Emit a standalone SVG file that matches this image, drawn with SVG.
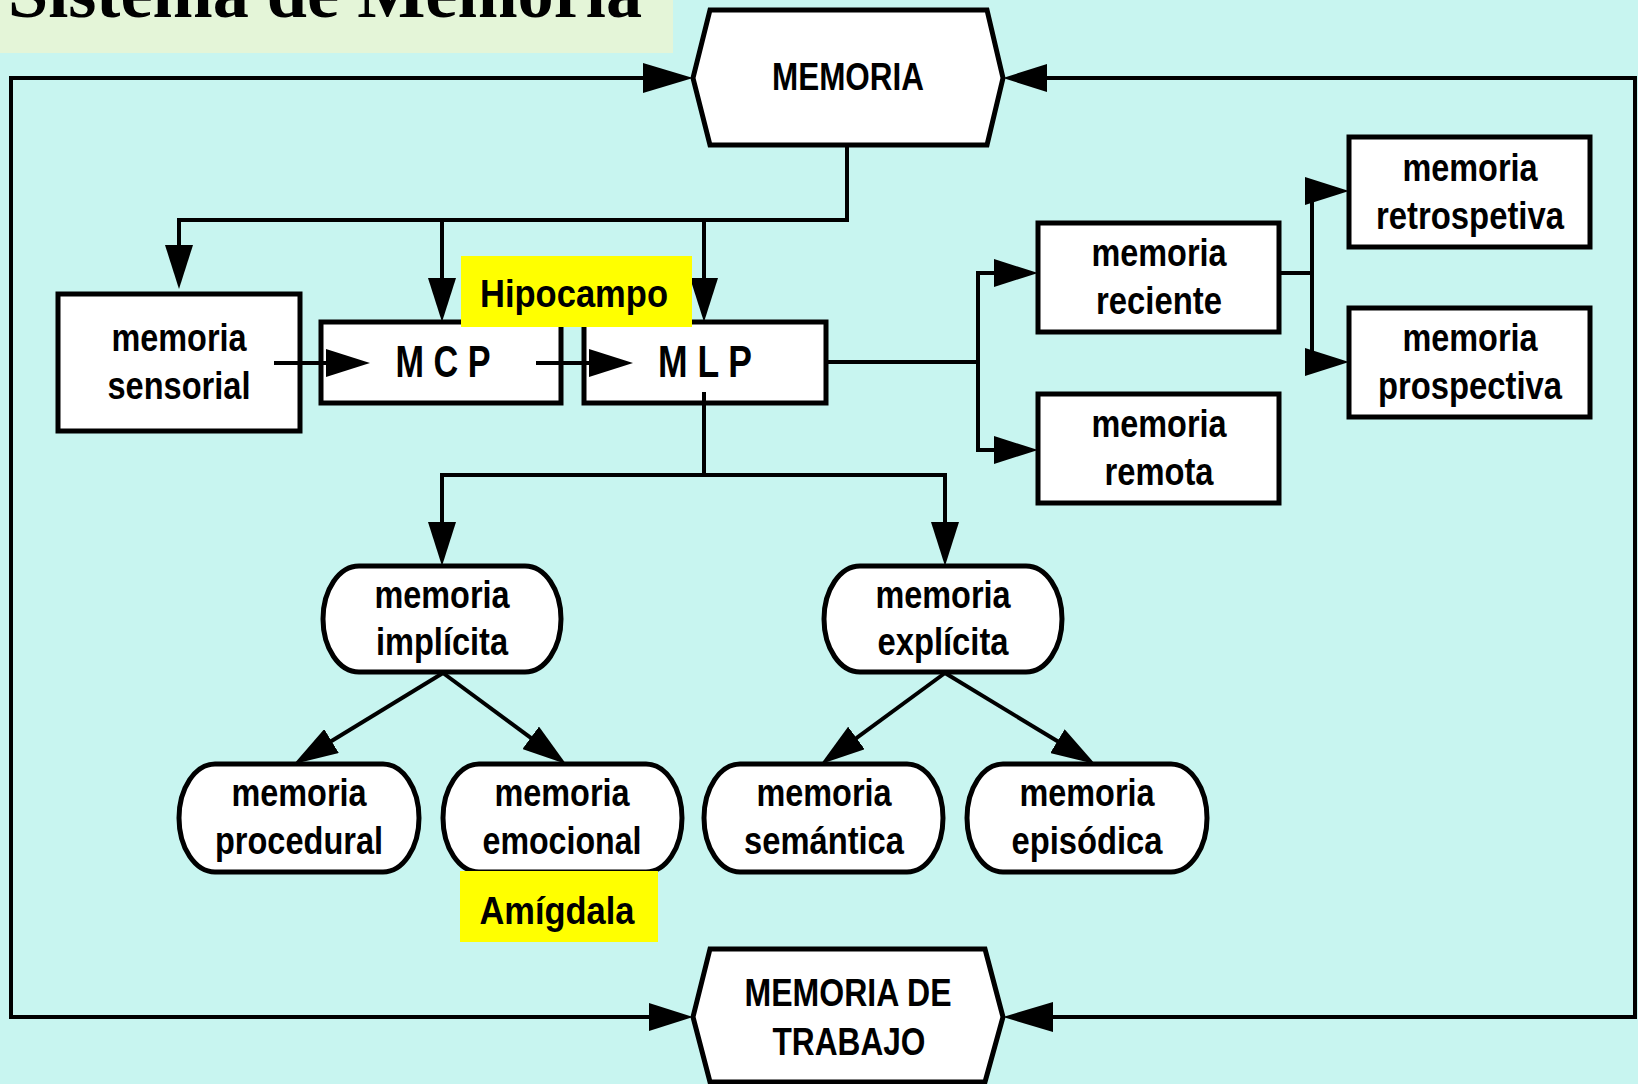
<svg xmlns="http://www.w3.org/2000/svg" width="1638" height="1084" viewBox="0 0 1638 1084">
  <style>
    .node { fill: #ffffff; stroke: #000000; stroke-width: 5; stroke-linejoin: miter; }
    .wire { fill: none; stroke: #000000; stroke-width: 4; stroke-linejoin: miter; }
    .lbl { font-family: "Liberation Sans", Arial, sans-serif; font-weight: bold; font-size: 38px; text-anchor: middle; fill: #000000; }
    .big { font-size: 44px; }
    .tag { fill: #ffff00; }
    .title { font-family: "Liberation Serif", "Times New Roman", serif; font-weight: bold; font-size: 72px; fill: #000000; }
  </style>
  <defs>
    <marker id="ah" markerUnits="userSpaceOnUse" viewBox="0 0 44 28" markerWidth="44" markerHeight="28" refX="36" refY="14" orient="auto-start-reverse">
      <path d="M0,0 L44,14 L0,28 Z" fill="#000000"/>
    </marker>
    <marker id="ahL" markerUnits="userSpaceOnUse" viewBox="0 0 50 30" markerWidth="50" markerHeight="30" refX="42" refY="15" orient="auto-start-reverse">
      <path d="M0,0 L50,15 L0,30 Z" fill="#000000"/>
    </marker>
  </defs>

  <!-- background and title band -->
  <rect x="0" y="0" width="1638" height="1084" fill="#c8f5f0"/>
  <rect x="0" y="0" width="673" height="53" fill="#e4f5d8"/>
  <text class="title" x="8" y="17" textLength="634" lengthAdjust="spacingAndGlyphs">Sistema de Memoria</text>

  <!-- nodes -->
  <g id="memoria">
    <polygon class="node" points="693,78 710,10 987,10 1003,78 987,145 710,145"/>
    <text class="lbl" x="848" y="90" textLength="152" lengthAdjust="spacingAndGlyphs">MEMORIA</text>
  </g>
  <g id="memoria-de-trabajo">
    <polygon class="node" points="693,1017 710,949 985,949 1003,1017 985,1082 710,1082"/>
    <text class="lbl" x="848" y="1006" textLength="207" lengthAdjust="spacingAndGlyphs">MEMORIA DE</text>
    <text class="lbl" x="849" y="1055" textLength="153" lengthAdjust="spacingAndGlyphs">TRABAJO</text>
  </g>
  <g id="sensorial">
    <rect class="node" x="58" y="294" width="242" height="137"/>
    <text class="lbl" x="179" y="351" textLength="135" lengthAdjust="spacingAndGlyphs">memoria</text>
    <text class="lbl" x="179" y="399" textLength="143" lengthAdjust="spacingAndGlyphs">sensorial</text>
  </g>
  <g id="mcp">
    <rect class="node" x="321" y="322" width="240" height="81"/>
    <text class="lbl big" x="443" y="377" textLength="95" lengthAdjust="spacingAndGlyphs">M C P</text>
  </g>
  <g id="mlp">
    <rect class="node" x="584" y="322" width="242" height="81"/>
    <text class="lbl big" x="705" y="377" textLength="94" lengthAdjust="spacingAndGlyphs">M L P</text>
  </g>
  <g id="reciente">
    <rect class="node" x="1038" y="223" width="241" height="109"/>
    <text class="lbl" x="1159" y="266" textLength="135" lengthAdjust="spacingAndGlyphs">memoria</text>
    <text class="lbl" x="1159" y="314" textLength="126" lengthAdjust="spacingAndGlyphs">reciente</text>
  </g>
  <g id="remota">
    <rect class="node" x="1038" y="394" width="241" height="109"/>
    <text class="lbl" x="1159" y="437" textLength="135" lengthAdjust="spacingAndGlyphs">memoria</text>
    <text class="lbl" x="1159" y="485" textLength="109" lengthAdjust="spacingAndGlyphs">remota</text>
  </g>
  <g id="retrospetiva">
    <rect class="node" x="1349" y="137" width="241" height="110"/>
    <text class="lbl" x="1470" y="181" textLength="135" lengthAdjust="spacingAndGlyphs">memoria</text>
    <text class="lbl" x="1470" y="229" textLength="188" lengthAdjust="spacingAndGlyphs">retrospetiva</text>
  </g>
  <g id="prospectiva">
    <rect class="node" x="1349" y="308" width="241" height="109"/>
    <text class="lbl" x="1470" y="351" textLength="135" lengthAdjust="spacingAndGlyphs">memoria</text>
    <text class="lbl" x="1470" y="399" textLength="184" lengthAdjust="spacingAndGlyphs">prospectiva</text>
  </g>
  <g id="implicita">
    <rect class="node" x="323" y="566" width="238" height="106" rx="36" ry="53"/>
    <text class="lbl" x="442" y="608" textLength="135" lengthAdjust="spacingAndGlyphs">memoria</text>
    <text class="lbl" x="442" y="655" textLength="132" lengthAdjust="spacingAndGlyphs">implícita</text>
  </g>
  <g id="explicita">
    <rect class="node" x="824" y="566" width="238" height="106" rx="36" ry="53"/>
    <text class="lbl" x="943" y="608" textLength="135" lengthAdjust="spacingAndGlyphs">memoria</text>
    <text class="lbl" x="943" y="655" textLength="131" lengthAdjust="spacingAndGlyphs">explícita</text>
  </g>
  <g id="procedural">
    <rect class="node" x="179" y="764" width="240" height="108" rx="36" ry="54"/>
    <text class="lbl" x="299" y="806" textLength="135" lengthAdjust="spacingAndGlyphs">memoria</text>
    <text class="lbl" x="299" y="854" textLength="168" lengthAdjust="spacingAndGlyphs">procedural</text>
  </g>
  <g id="emocional">
    <rect class="node" x="443" y="764" width="239" height="108" rx="36" ry="54"/>
    <text class="lbl" x="562" y="806" textLength="135" lengthAdjust="spacingAndGlyphs">memoria</text>
    <text class="lbl" x="562" y="854" textLength="159" lengthAdjust="spacingAndGlyphs">emocional</text>
  </g>
  <g id="semantica">
    <rect class="node" x="704" y="764" width="239" height="108" rx="36" ry="54"/>
    <text class="lbl" x="824" y="806" textLength="135" lengthAdjust="spacingAndGlyphs">memoria</text>
    <text class="lbl" x="824" y="854" textLength="160" lengthAdjust="spacingAndGlyphs">semántica</text>
  </g>
  <g id="episodica">
    <rect class="node" x="967" y="764" width="240" height="108" rx="36" ry="54"/>
    <text class="lbl" x="1087" y="806" textLength="135" lengthAdjust="spacingAndGlyphs">memoria</text>
    <text class="lbl" x="1087" y="854" textLength="151" lengthAdjust="spacingAndGlyphs">episódica</text>
  </g>

  <!-- connectors -->
  <g id="connectors">
    <path class="wire" d="M685,78 H11 V1017 H685" marker-start="url(#ahL)" marker-end="url(#ah)"/>
    <path class="wire" d="M1011,78 H1635 V1017 H1011" marker-start="url(#ah)" marker-end="url(#ahL)"/>
    <path class="wire" d="M847,147 V220 H179 V281" marker-end="url(#ah)"/>
    <path class="wire" d="M442,220 V314" marker-end="url(#ah)"/>
    <path class="wire" d="M704,220 V314" marker-end="url(#ah)"/>
    <path class="wire" d="M274,363 H362" marker-end="url(#ah)"/>
    <path class="wire" d="M536,363 H625" marker-end="url(#ah)"/>
    <path class="wire" d="M826,362 H978"/>
    <path class="wire" d="M1030,273 H978 V450 H1030" marker-start="url(#ah)" marker-end="url(#ah)"/>
    <path class="wire" d="M1279,273 H1312"/>
    <path class="wire" d="M1341,191 H1312 V362 H1341" marker-start="url(#ah)" marker-end="url(#ah)"/>
    <path class="wire" d="M704,392 V475"/>
    <path class="wire" d="M442,558 V475 H945 V558" marker-start="url(#ah)" marker-end="url(#ah)"/>
    <path class="wire" d="M443,673 L300.8,759.8" marker-end="url(#ah)"/>
    <path class="wire" d="M443,673 L559.6,759.2" marker-end="url(#ah)"/>
    <path class="wire" d="M945,673 L827.4,759.3" marker-end="url(#ah)"/>
    <path class="wire" d="M945,673 L1088.2,759.8" marker-end="url(#ah)"/>
  </g>

  <!-- highlighted brain-region labels -->
  <g id="hipocampo">
    <rect class="tag" x="461" y="256" width="231" height="71"/>
    <text class="lbl" x="574" y="307" font-size="41" textLength="188" lengthAdjust="spacingAndGlyphs">Hipocampo</text>
  </g>
  <g id="amigdala">
    <rect class="tag" x="460" y="871" width="198" height="71"/>
    <text class="lbl" x="557" y="924" font-size="41" textLength="155" lengthAdjust="spacingAndGlyphs">Amígdala</text>
  </g>
</svg>
